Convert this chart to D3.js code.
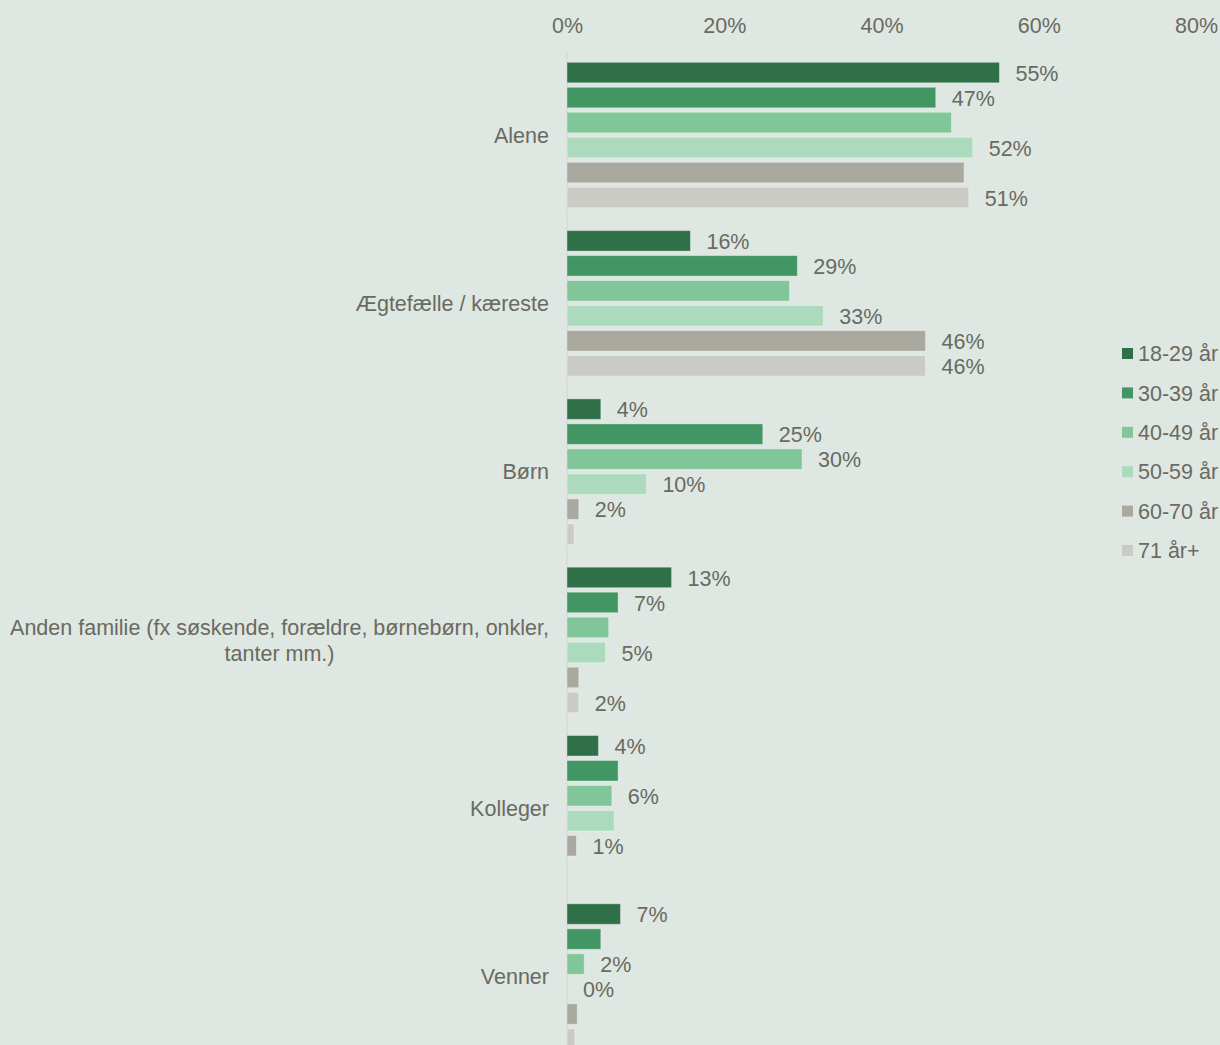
<!DOCTYPE html>
<html>
  <head>
    <style>
      body { margin: 0; background: #dee7e1; }
      text { font-family: "Liberation Sans", Arial, sans-serif; font-size: 21.5px; fill: #6a6a61; }
      .bar { stroke: rgba(255,255,255,0.35); stroke-width: 1px; }
    </style>
    <script src="https://d3js.org/d3.v7.min.js"></script>
  </head>
  <body>
    <svg class="chart"></svg>

    <script>
      const categories = ['Alene', 'Ægtefælle / kæreste', 'Børn',
        'Anden familie (fx søskende, forældre, børnebørn, onkler,|tanter mm.)', 'Kolleger', 'Venner'];
      const seriesNames = ['18-29 år', '30-39 år', '40-49 år', '50-59 år', '60-70 år', '71 år+'];
      const colors = ['#2f7049', '#419663', '#80c698', '#abdabd', '#a9a9a0', '#cacbc5'];
      const ticks = [0, 20, 40, 60, 80];

      // values in percent, one array per age group (order = categories)
      const v18_29 = [55.0, 15.7, 4.3, 13.3, 4.0, 6.8];
      const v30_39 = [46.9, 29.3, 24.9, 6.5, 6.5, 4.3];
      const v40_49 = [48.9, 28.3, 29.9, 5.3, 5.7, 2.2];
      const v50_59 = [51.6, 32.6, 10.1, 4.9, 6.0, 0];
      const v60_70 = [50.5, 45.6, 1.5, 1.5, 1.2, 1.3];
      const v71 = [51.1, 45.6, 0.9, 1.5, 0, 1.0];
      const values = [v18_29, v30_39, v40_49, v50_59, v60_70, v71];

      // which data labels are shown in the original (1 = shown)
      const show18_29 = [1, 1, 1, 1, 1, 1];
      const show30_39 = [1, 1, 1, 1, 0, 0];
      const show40_49 = [0, 0, 1, 0, 1, 1];
      const show50_59 = [1, 1, 1, 1, 0, 1];
      const show60_70 = [0, 1, 1, 0, 1, 0];
      const show71 = [1, 1, 0, 1, 0, 0];
      const shown = [show18_29, show30_39, show40_49, show50_59, show60_70, show71];

      const width = 1220;
      const height = 1045;

      const svg = d3.select('svg')
        .attr('width', width)
        .attr('height', height);

      svg.append('rect').attr('width', width).attr('height', height).attr('fill', '#dee7e1');

      const x = d3.scaleLinear().domain([0, 80]).range([567, 1196]);
      const y = d3.scaleBand().domain(d3.range(categories.length)).range([50.9, 1060.7]);
      const yInner = d3.scaleBand().domain(d3.range(seriesNames.length))
        .range([0, y.bandwidth()]).paddingInner(0.18).paddingOuter(0.456);

      // top axis
      const axis = svg.append('g')
        .attr('transform', 'translate(0,33)')
        .call(d3.axisTop(x).tickValues(ticks).tickSize(0).tickPadding(0).tickFormat(d => d + '%'));
      axis.select('.domain').remove();
      axis.selectAll('text').attr('font-size', null).attr('font-family', null);

      // vertical axis line
      svg.append('line')
        .attr('x1', x(0)).attr('x2', x(0))
        .attr('y1', y.range()[0]).attr('y2', y.range()[1])
        .attr('stroke', '#d5d5cf').attr('stroke-width', 1);

      const groups = svg.selectAll('g.cat')
        .data(categories)
        .join('g')
        .attr('class', 'cat')
        .attr('transform', (d, i) => `translate(0,${y(i)})`);

      groups.each(function (cat, ci) {
        const g = d3.select(this);
        seriesNames.forEach((s, si) => {
          const v = values[si][ci];
          if (v > 0) {
            g.append('rect')
              .attr('class', 'bar')
              .attr('x', x(0))
              .attr('y', yInner(si))
              .attr('width', x(v) - x(0))
              .attr('height', yInner.bandwidth())
              .attr('fill', colors[si]);
          }
          if (shown[si][ci]) {
            g.append('text')
              .attr('x', x(v) + 16)
              .attr('y', yInner(si) + yInner.bandwidth() / 2)
              .attr('dy', '0.38em')
              .text(d3.format('.0f')(v) + '%');
          }
        });

        // category label (may wrap on '|')
        const lines = cat.split('|');
        const lh = 26;
        const t = g.append('text')
          .attr('text-anchor', 'middle')
          .attr('y', y.bandwidth() / 2 - (lines.length - 1) * lh / 2);
        lines.forEach((l, li) => {
          t.append('tspan').attr('dy', li === 0 ? '0.36em' : lh).text(l);
        });
        const w = d3.max(t.selectAll('tspan').nodes(), n => n.getComputedTextLength());
        const cx = 549 - w / 2;
        t.selectAll('tspan').attr('x', cx);
      });

      // legend
      const legend = svg.append('g')
        .selectAll('g')
        .data(seriesNames)
        .join('g')
        .attr('transform', (d, i) => `translate(1122,${353.5 + i * 39.4})`);
      legend.append('rect')
        .attr('y', -5.5).attr('width', 11).attr('height', 11)
        .attr('fill', (d, i) => colors[i]);
      legend.append('text')
        .attr('x', 16).attr('dy', '0.36em')
        .text(d => d);
    </script>
  </body>
</html>
